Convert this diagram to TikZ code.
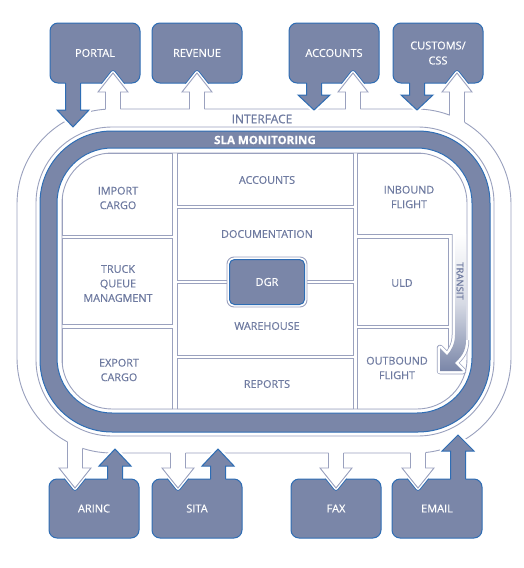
\documentclass[tikz,border=0pt]{standalone}
\usepackage{fontspec}
\setmainfont{Open Sans}[FakeBold=0.5]
\definecolor{slate}{HTML}{7A86A8}
\definecolor{bblue}{HTML}{2E6DB4}
\definecolor{lgrey}{HTML}{9AA1BE}
\definecolor{txtc}{HTML}{6E7AA0}
\begin{document}
\begin{tikzpicture}[x=1pt,y=-1pt,
  thinline/.style={draw=lgrey, line width=0.9pt},
  extbox/.style={fill=slate, draw=bblue, line width=1pt, rounded corners=8pt, minimum width=90pt, minimum height=60pt, inner sep=0pt, text=white, align=center, font=\fontsize{11}{15}\selectfont},
  celltext/.style={text=txtc, align=center, font=\fontsize{10.8}{14.5}\selectfont, inner sep=0pt},
]
\useasboundingbox (0,0) rectangle (523,568);
% interface band
\draw[thinline, fill=white, rounded corners=95pt] (17,109) rectangle (511,453);
\draw[thinline, rounded corners=76pt] (36,127) rectangle (494,436);
% SLA ring
\draw[fill=slate, draw=bblue, line width=1pt, rounded corners=72pt] (40,131) rectangle (490,432);
\draw[fill=white, draw=bblue, line width=1pt, rounded corners=55pt] (57,148) rectangle (472,413);
% cells
\begin{scope}
\clip[rounded corners=50pt] (62,153) rectangle (467,409);
\draw[thinline] (62,153) rectangle (172,235);
\draw[thinline] (62,238) rectangle (172,324);
\draw[thinline] (62,328) rectangle (172,409);
\draw[thinline] (177,153) rectangle (353,205);
\draw[thinline] (177,208) rectangle (353,280);
\draw[thinline] (177,283) rectangle (353,355);
\draw[thinline] (177,358) rectangle (353,409);
\draw[thinline] (452,234) -- (357,234) -- (357,153) -- (467,153);
\draw[thinline] (357,238) rectangle (448,325);
\draw[thinline] (448,350) -- (448,328) -- (357,328) -- (357,409) -- (467,409);
\end{scope}
\draw[thinline, rounded corners=50pt] (62,153) rectangle (467,409);
% transit arrow
\draw[lgrey, line width=6.5pt, line join=round] (455,234) -- (455,335) .. controls (455,344) and (451,351) .. (447.1,355.1) -- (440,348) -- (440,371) -- (463,371) -- (454.9,362.9) .. controls (461,357) and (466,352) .. (466,340);
\draw[white, line width=5pt, line join=round] (455,234) -- (455,335) .. controls (455,344) and (451,351) .. (447.1,355.1) -- (440,348) -- (440,371) -- (463,371) -- (454.9,362.9) .. controls (461,357) and (466,352) .. (466,340);
\shade[top color=white, bottom color=slate, middle color=white!70!slate] (455,234) -- (455,335) .. controls (455,344) and (451,351) .. (447.1,355.1) -- (440,348) -- (440,371) -- (463,371) -- (454.9,362.9) .. controls (461,357) and (466,352) .. (466,340) -- (466,234) -- cycle;
\node[rotate=-90, text=txtc, inner sep=0pt, font=\fontsize{9.5}{10}\selectfont] (transit) at (460,281) {TRANSIT};
% DGR
\draw[thinline, fill=white, rounded corners=7pt] (227,257) rectangle (307,307);
\node[fill=slate, draw=bblue, line width=1pt, rounded corners=5pt, minimum width=75pt, minimum height=45pt, inner sep=0pt, text=white, font=\fontsize{11}{14}\selectfont] (dgr) at (267,282) {DGR};
% cell labels
\node[celltext] (c1) at (118,198) {IMPORT\\CARGO};
\node[celltext] (c2) at (118,283.5) {TRUCK\\QUEUE\\MANAGMENT};
\node[celltext] (c3) at (119,370) {EXPORT\\CARGO};
\node[celltext] (c4) at (267,180) {ACCOUNTS};
\node[celltext] (c5) at (267,234) {DOCUMENTATION};
\node[celltext] (c6) at (267,326) {WAREHOUSE};
\node[celltext] (c7) at (267,384) {REPORTS};
\node[celltext] (c8) at (409,197) {INBOUND\\FLIGHT};
\node[celltext] (c9) at (402,283) {ULD};
\node[celltext] (c10) at (397,368) {OUTBOUND\\FLIGHT};
% halos of filled arrows
\foreach \xa/\ys/\yh/\yt in {73/83/110/127, 314/83/95/110, 417/83/95/110, 115/479/466/449, 218/479/466/449, 458/479/451/435}
  \draw[white, line width=5pt, line join=round] (\xa-7.5,\ys) -- (\xa-7.5,\yh) -- (\xa-16,\yh) -- (\xa,\yt) -- (\xa+16,\yh) -- (\xa+7.5,\yh) -- (\xa+7.5,\ys);
% boxes
\node[extbox] (portal) at (95,53) {PORTAL};
\node[extbox] (revenue) at (197,53) {REVENUE};
\node[extbox] (accounts) at (334,53) {ACCOUNTS};
\node[extbox] (customs) at (438,53) {CUSTOMS/\\CSS};
\node[extbox, minimum height=59pt] (arinc) at (94,508.5) {ARINC};
\node[extbox, minimum height=59pt] (sita) at (197,508.5) {SITA};
\node[extbox, minimum height=59pt] (fax) at (336,508.5) {FAX};
\node[extbox, minimum height=59pt] (email) at (437,508.5) {EMAIL};
% filled arrows
\foreach \xa/\ys/\yh/\yt/\ye in {73/83/110/127/80, 314/83/95/110/80, 417/83/95/110/80, 115/479/466/449/482, 218/479/466/449/482, 458/479/451/435/482} {
  \fill[slate] (\xa-7.5,\ye) -- (\xa-7.5,\yh) -- (\xa-16,\yh) -- (\xa,\yt) -- (\xa+16,\yh) -- (\xa+7.5,\yh) -- (\xa+7.5,\ye) -- cycle;
  \draw[bblue, line width=1pt] (\xa-7.5,\ys) -- (\xa-7.5,\yh) -- (\xa-16,\yh) -- (\xa,\yt) -- (\xa+16,\yh) -- (\xa+7.5,\yh) -- (\xa+7.5,\ys);
}
% outline arrows
\foreach \xa/\yl/\yr/\ye/\yh/\yt/\hw/\bn in {113/109.2/109/112/92/73/15/portal, 197/109/109/112/92/73/15/revenue, 353/109/109/112/92/73/15/accounts, 457/115.1/122.3/126/92/73/15/customs, 75/441.9/448.3/436/468/488/16/arinc, 178/453/453/449/468/488/16/sita, 336/453/453/449/468/488/16/fax, 418/453/452.5/449/468/488/16/email} {
  \begin{scope}
  \clip[rounded corners=8pt] (\bn.south west) rectangle (\bn.north east);
  \draw[bblue, line width=5.6pt, line join=round] (\xa-7.5,\yh) -- (\xa-\hw,\yh) -- (\xa,\yt) -- (\xa+\hw,\yh) -- (\xa+7.5,\yh);
  \end{scope}
  \draw[white, line width=3.8pt, line join=round] (\xa-7.5,\yh) -- (\xa-\hw,\yh) -- (\xa,\yt) -- (\xa+\hw,\yh) -- (\xa+7.5,\yh);
  \fill[white] (\xa-7.5,\yl) -- (\xa-7.5,\yh) -- (\xa-\hw,\yh) -- (\xa,\yt) -- (\xa+\hw,\yh) -- (\xa+7.5,\yh) -- (\xa+7.5,\yr) -- (\xa+7.5,\ye) -- (\xa-7.5,\ye) -- cycle;
  \draw[thinline] (\xa-7.5,\yl) -- (\xa-7.5,\yh) -- (\xa-\hw,\yh) -- (\xa,\yt) -- (\xa+\hw,\yh) -- (\xa+7.5,\yh) -- (\xa+7.5,\yr);
}
% titles
\node[text=txtc, inner sep=0pt, font=\fontsize{12}{14}\selectfont] (interface) at (262,119) {INTERFACE};
\node[text=white, inner sep=0pt, font=\bfseries\fontsize{11.5}{14}\selectfont] (sla) at (265,140) {SLA MONITORING};
\end{tikzpicture}
\end{document}
